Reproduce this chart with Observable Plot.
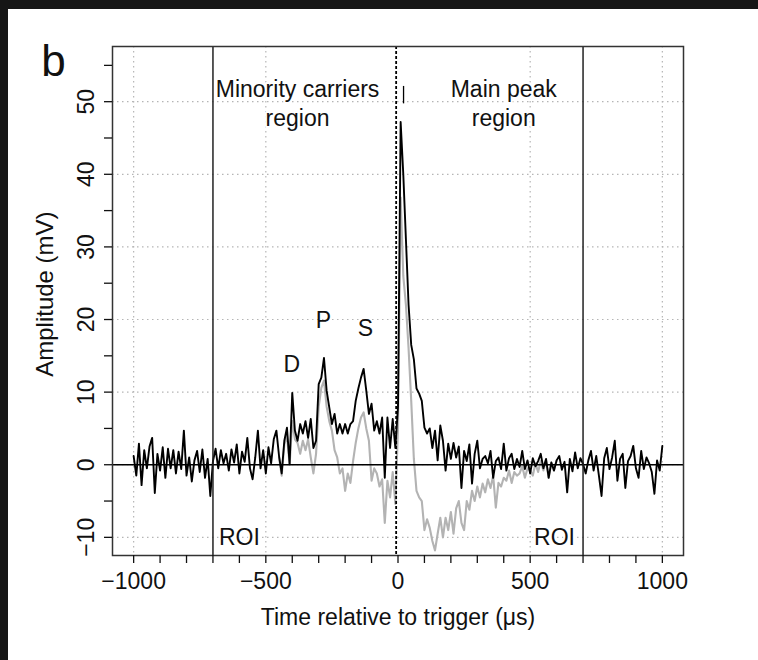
<!DOCTYPE html>
<html><head><meta charset="utf-8">
<script src="https://cdn.jsdelivr.net/npm/d3@7"></script>
<script src="https://cdn.jsdelivr.net/npm/@observablehq/plot@0.6"></script>
<style>
html,body{margin:0;padding:0;background:#161616;width:758px;height:660px;overflow:hidden}
#chart{position:absolute;left:8px;top:9px;width:750px;height:651px;background:#fff}
</style></head><body><div id="chart"></div>
<script>
// Black trace: time grid from -1000 µs in 10 µs steps
const blackStart = -1000;
const blackStep = 10;
const blackValues = [
  1.2,-1.5,2.9,-2.8,2.0,-0.5,2.5,3.7,-3.9,1.5,
  -0.8,2.4,-1.8,2.2,-0.5,2.0,-1.2,1.8,-0.6,4.7,
  -1.5,1.0,-2.3,0.6,1.9,-1.0,2.1,-1.8,0.8,-4.3,
  0.5,2.2,-0.5,2.0,0.2,1.5,-0.8,2.1,0.3,2.8,
  -1.2,1.8,0.4,3.7,-0.5,-2.0,1.0,4.7,-0.5,2.0,
  -1.2,2.4,0.2,3.5,4.7,1.2,-1.2,3.3,5.1,0.1,
  9.9,4.7,3.3,5.6,4.3,6.0,3.7,6.3,2.3,3.3,
  11.1,12.0,14.7,10.2,7.9,5.6,7.0,4.3,5.6,4.3,
  5.6,4.3,5.6,6.0,8.8,10.5,12.0,13.2,10.2,7.0,
  8.4,4.7,6.0,4.3,6.5,-1.8,6.5,2.3,6.3,2.3,
  8.0,47.2,40.0,31.0,22.0,16.5,14.5,10.5,9.8,8.8,
  5.1,4.3,5.0,2.3,4.7,0.6,5.4,3.3,-0.8,2.9,
  0.8,3.0,1.0,2.5,-3.2,1.9,0.5,2.8,-2.6,1.5,
  3.3,-0.5,0.8,1.2,0.2,1.9,-1.8,0.5,1.0,-0.6,
  2.9,-0.8,0.9,1.5,-0.6,0.8,-0.3,1.9,-0.6,0.6,
  -1.2,0.9,-0.2,0.5,1.5,-0.5,0.8,-1.8,0.3,-0.8,
  0.6,1.2,-0.7,0.4,-3.8,0.8,-0.9,1.7,-0.5,0.9,
  0.1,-1.2,0.6,1.9,-0.8,1.2,-1.5,-4.3,0.9,2.3,
  -0.6,1.0,3.3,-2.2,0.8,1.5,-3.2,0.5,1.2,2.6,
  -0.5,-1.8,1.9,-0.6,1.0,0.2,-1.0,-4.0,0.6,-0.8,
  2.6
];
// Gray trace: time grid from -450 µs in 10 µs steps (elsewhere hidden under black)
const grayStart = -450;
const grayStep = 10;
const grayValues = [
  1.0,-1.5,2.8,4.0,0.0,6.0,3.5,3.0,1.5,3.3,
  2.0,3.5,1.0,-1.2,1.5,8.0,10.6,11.6,8.0,6.0,
  4.7,2.0,1.0,-1.2,-0.5,-3.6,-1.2,-2.5,0.5,3.0,
  5.0,6.5,7.2,5.0,3.3,-2.2,-0.5,-1.2,-3.0,-2.0,
  -8.0,-2.2,-4.5,-1.0,-5.4,5.0,36.8,26.0,22.0,16.0,
  8.8,0.8,-3.6,-4.5,-5.0,-9.0,-7.5,-8.7,-10.5,-11.8,
  -9.5,-7.3,-10.0,-7.3,-9.0,-6.5,-9.5,-6.0,-5.0,-8.0,
  -9.0,-5.0,-6.2,-3.6,-5.0,-3.0,-4.5,-2.6,-3.8,-2.0,
  -3.2,-1.5,-5.9,-2.5,-3.0,-1.8,-2.2,-0.8,-2.5,-1.0,
  -1.5,-1.2,-0.2,-1.8,-0.5,-0.8,-1.5,0.2,-1.0,0.5,
  -0.8,0.6,-1.8,0.3,-0.8,0.6
];
const xTicks = d3.range(-1000, 1001, 100);
const xLabels = [-1000, -500, 0, 500, 1000];
const yTicks = d3.range(-10, 56, 5);
const yLabels = [-10, 0, 10, 20, 30, 40, 50];
const gridXValues = [-1000, -500, 500, 1000];
const roiLines = [-700, 700];
const triggerLine = [-7];
const regionLabels = [
  {t: -380, v: 49.9, label: "Minority carriers\nregion"},
  {t: 400, v: 49.9, label: "Main peak\nregion"}
];
const peakLabels = [
  {t: -402, v: 13.8, label: "D"},
  {t: -282, v: 19.8, label: "P"},
  {t: -123, v: 18.7, label: "S"}
];
const roiLabels = [
  {t: -600, v: -10, label: "ROI"},
  {t: 592, v: -10, label: "ROI"}
];
const peakMarker = [{t: 21, v1: 49.7, v2: 52.1}];

const black = blackValues.map((v, i) => ({t: blackStart + i * blackStep, v}));
const gray = grayValues.map((v, i) => ({t: grayStart + i * grayStep, v}));
const fmt = d => d < 0 ? "\u2212" + (-d) : String(d);
const FS = 23;

const plot = Plot.plot({
  width: 750, height: 651,
  marginLeft: 104, marginRight: 75, marginTop: 37, marginBottom: 105,
  x: {domain: [-1080, 1080]},
  y: {domain: [-12.5, 57.6]},
  style: {fontFamily: "'Liberation Sans', Arial, sans-serif", fontSize: FS + "px", background: "transparent", overflow: "visible", color: "#111"},
  marks: [
    Plot.ruleX(gridXValues, {stroke: "#b5b5b5", strokeWidth: 1.2, strokeDasharray: "1.5,3.5"}),
    Plot.ruleY(yLabels, {stroke: "#b5b5b5", strokeWidth: 1.2, strokeDasharray: "1.5,3.5"}),
    Plot.line(gray, {x: "t", y: "v", stroke: "#b3b3b3", strokeWidth: 2.1, strokeLinejoin: "round"}),
    Plot.line(black, {x: "t", y: "v", stroke: "#000", strokeWidth: 1.9, strokeLinejoin: "round"}),
    Plot.ruleY([0], {stroke: "#000", strokeWidth: 1.5}),
    Plot.ruleX(roiLines, {stroke: "#222", strokeWidth: 1.5}),
    Plot.ruleX(triggerLine, {stroke: "#000", strokeWidth: 1.8, strokeDasharray: "3,2"}),
    Plot.ruleX(peakMarker, {x: "t", y1: "v1", y2: "v2", stroke: "#000", strokeWidth: 1.3}),
    Plot.frame({stroke: "#333", strokeWidth: 1.5}),
    Plot.axisX({ticks: xTicks, tickSize: 8, tickPadding: 9, strokeWidth: 1.3, tickFormat: d => xLabels.includes(d) ? fmt(d) : "", fontSize: FS, label: null}),
    Plot.axisY({ticks: yTicks, tickSize: 8, strokeWidth: 1.3, tickFormat: () => "", label: null}),
    Plot.text(yLabels, {y: d => d, frameAnchor: "left", dx: -26, rotate: -90, text: fmt, fontSize: FS, textAnchor: "middle", lineAnchor: "middle"}),
    Plot.text(["Amplitude (mV)"], {y: 23.5, frameAnchor: "left", dx: -67, rotate: -90, fontSize: 24, textAnchor: "middle", lineAnchor: "middle"}),
    Plot.text(["Time relative to trigger (\u03bcs)"], {frameAnchor: "bottom", dy: 62, fontSize: FS, lineAnchor: "middle"}),
    Plot.text(["b"], {frameAnchor: "top-left", dx: -59, dy: 15, fontSize: 44, textAnchor: "middle", lineAnchor: "middle"}),
    Plot.text(regionLabels, {x: "t", y: "v", text: "label", fontSize: FS, lineHeight: 1.25, lineAnchor: "middle", stroke: "white", strokeWidth: 4, fill: "#111"}),
    Plot.text(peakLabels, {x: "t", y: "v", text: "label", fontSize: FS, lineAnchor: "middle", fill: "#111"}),
    Plot.text(roiLabels, {x: "t", y: "v", text: "label", fontSize: FS, lineAnchor: "middle", stroke: "white", strokeWidth: 4, fill: "#111"})
  ]
});
document.getElementById("chart").appendChild(plot);
</script></body></html>
